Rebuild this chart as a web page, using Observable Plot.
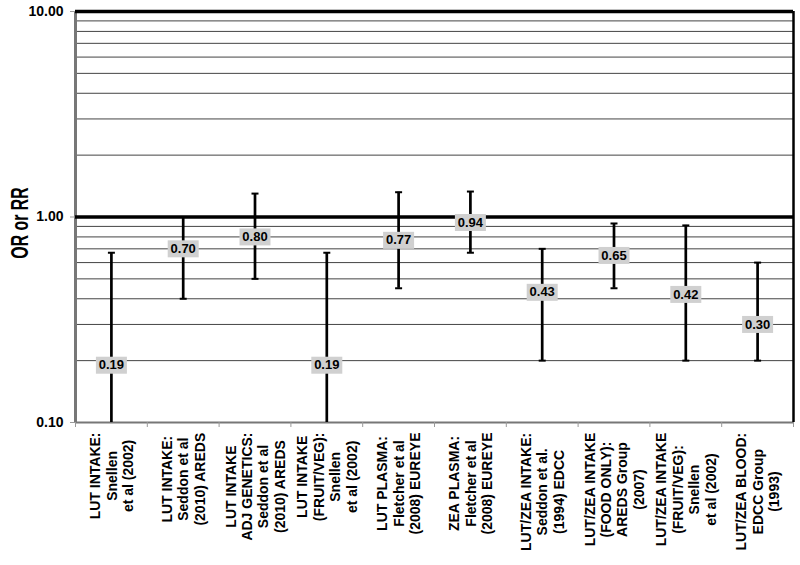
<!DOCTYPE html>
<html>
<head>
<meta charset="utf-8">
<script src="https://cdn.jsdelivr.net/npm/d3@7"></script>
<script src="https://cdn.jsdelivr.net/npm/@observablehq/plot@0.6"></script>
<style>
  html, body { margin: 0; padding: 0; background: #fff; }
  svg { display: block; }
</style>
</head>
<body>
<script>
// ---- data ----
const categories = [
  "LUT INTAKE:\nSnellen\net al (2002)",
  "LUT INTAKE:\nSeddon et al\n(2010) AREDS",
  "LUT INTAKE\nADJ GENETICS:\nSeddon et al\n(2010) AREDS",
  "LUT INTAKE\n(FRUIT/VEG):\nSnellen\net al (2002)",
  "LUT PLASMA:\nFletcher et al\n(2008) EUREYE",
  "ZEA PLASMA:\nFletcher et al\n(2008) EUREYE",
  "LUT/ZEA INTAKE:\nSeddon et al.\n(1994) EDCC",
  "LUT/ZEA INTAKE\n(FOOD ONLY):\nAREDS Group\n(2007)",
  "LUT/ZEA INTAKE\n(FRUIT/VEG):\nSnellen\net al (2002)",
  "LUT/ZEA BLOOD:\nEDCC Group\n(1993)"
];
const estimate = [0.19, 0.70, 0.80, 0.19, 0.77, 0.94, 0.43, 0.65, 0.42, 0.30];
const lower    = [0.10, 0.40, 0.50, 0.10, 0.45, 0.67, 0.20, 0.45, 0.20, 0.20];
const upper    = [0.67, 1.00, 1.30, 0.67, 1.32, 1.33, 0.70, 0.93, 0.91, 0.60];
const yTicks = [0.1, 1, 10];
const minorGrid = [0.2, 0.3, 0.4, 0.5, 0.6, 0.7, 0.8, 0.9, 2, 3, 4, 5, 6, 7, 8, 9];
const yTitle = "OR or RR";

// ---- table built from the arrays ----
const rows = categories.map((c, i) => ({
  pos: i + 0.5, label: c, est: estimate[i], lo: lower[i], hi: upper[i]
}));

const font = "'Liberation Sans', Arial, Helvetica, sans-serif";
const boxSymbol = { draw(ctx) { ctx.rect(-15.5, -8.5, 31, 17); } };
const capSymbol = { draw(ctx) { ctx.moveTo(-3.5, 0); ctx.lineTo(3.5, 0); } };
const fmt = d3.format(".2f");

// measure longest line of each rotated label so it starts just below the axis
const labelSize = 14;
const ctx2d = document.createElement("canvas").getContext("2d");
ctx2d.font = `bold ${labelSize}px ${font}`;
const longest = s => d3.max(s.split("\n"), l => ctx2d.measureText(l).width);

const labelMarks = rows.map(r => Plot.text([r], {
  x: "pos", frameAnchor: "bottom", text: "label", rotate: -90,
  textAnchor: "middle", lineAnchor: "middle", lineHeight: 1.17,
  dy: 10 + longest(r.label) / 2,
  fontSize: labelSize, fontWeight: "bold", fill: "#000"
}));

const chart = Plot.plot({
  width: 800,
  height: 565,
  marginLeft: 75,
  marginRight: 7,
  marginTop: 11,
  marginBottom: 143,
  style: { fontFamily: font, background: "#fff", color: "#000" },
  x: { domain: [0, categories.length], axis: null },
  y: { type: "log", domain: [0.1, 10], axis: null },
  marks: [
    // minor gridlines
    Plot.ruleY(minorGrid, { stroke: "#444", strokeWidth: 1 }),
    // frame lines
    Plot.ruleY([0.1], { stroke: "#777", strokeWidth: 2 }),
    Plot.ruleX([0], { stroke: "#777", strokeWidth: 3 }),
    Plot.ruleX([categories.length], { stroke: "#000", strokeWidth: 2.5 }),
    Plot.ruleY([1, 10], { stroke: "#000", strokeWidth: 3.5 }),
    // y axis
    Plot.axisY({
      ticks: yTicks, tickFormat: fmt, tickSize: 5, tickPadding: 7,
      stroke: "#999", fontSize: 14, fontWeight: "bold", label: null
    }),
    // x boundary ticks
    Plot.axisX({
      ticks: d3.range(0, categories.length + 1), tickFormat: () => "",
      tickSize: 5, stroke: "#999", label: null
    }),
    // error bars
    Plot.ruleX(rows, { x: "pos", y1: "lo", y2: "hi", stroke: "#000", strokeWidth: 2.7 }),
    Plot.dot(rows, { x: "pos", y: "hi", symbol: capSymbol, stroke: "#000", strokeWidth: 2, fill: "none" }),
    Plot.dot(rows.filter(d => d.lo > 0.1), { x: "pos", y: "lo", symbol: capSymbol, stroke: "#000", strokeWidth: 2, fill: "none" }),
    // value labels
    Plot.dot(rows, { x: "pos", y: "est", symbol: boxSymbol, fill: "#d0d0d0", stroke: null }),
    Plot.text(rows, { x: "pos", y: "est", text: d => fmt(d.est), fontSize: 13, fontWeight: "bold", fill: "#000" }),
    // category labels
    ...labelMarks,
    // y title
    Plot.text([yTitle], {
      frameAnchor: "left", text: d => d, rotate: -90, textAnchor: "middle",
      dx: -55, dy: 6, fontSize: 24, fontWeight: "bold", fill: "#000"
    })
  ]
});

document.body.append(chart);

// the reference title uses a condensed face: compress it along its reading direction
d3.select(chart).selectAll("text")
  .filter(function () { return this.textContent === yTitle; })
  .each(function () {
    const t = this.getAttribute("transform");
    if (t && /rotate/.test(t)) this.setAttribute("transform", t + " scale(0.66,1)");
  });
</script>
</body>
</html>
